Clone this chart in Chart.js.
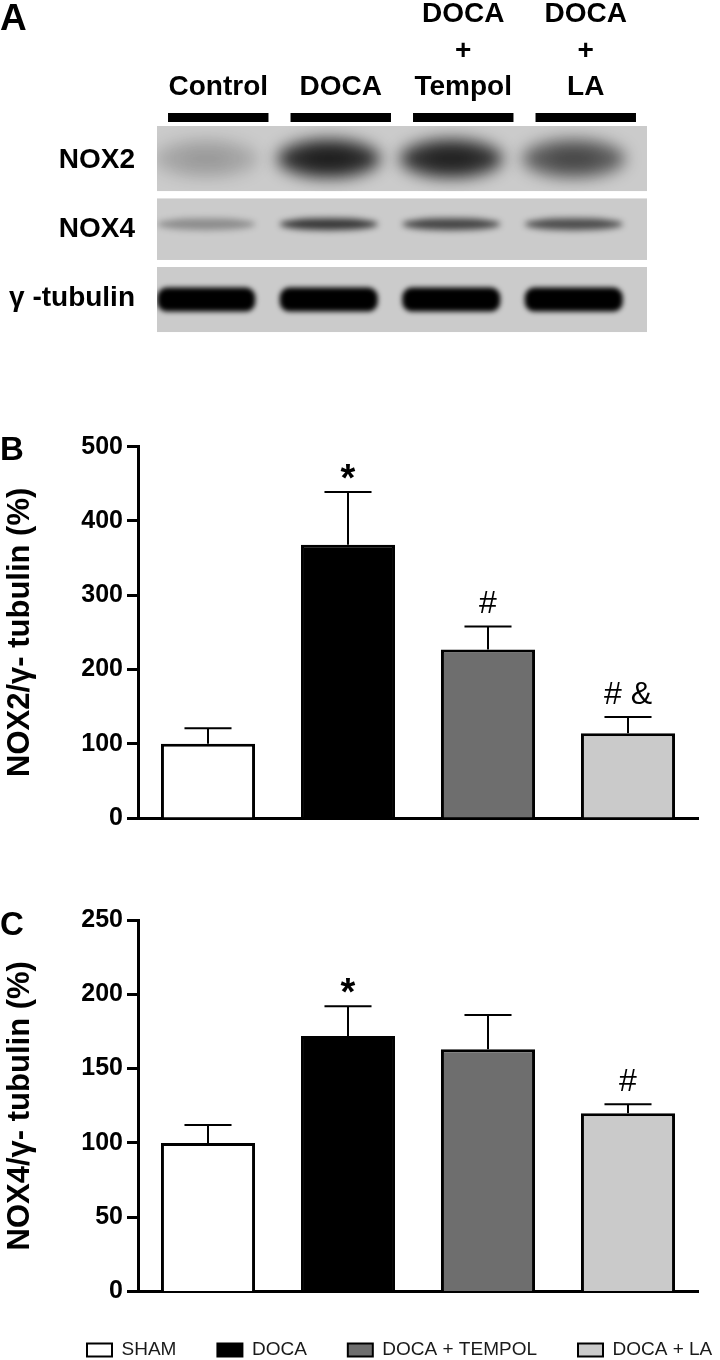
<!DOCTYPE html>
<html>
<head>
<meta charset="utf-8">
<script src="https://cdn.jsdelivr.net/npm/chart.js@4.4.1/dist/chart.umd.min.js"></script>
<style>
  html, body { margin:0; padding:0; background:#fff; overflow:hidden; }
  #wrap { position:relative; width:720px; height:1360px; overflow:hidden; background:#fff; }
  canvas { position:absolute; left:0; }
</style>
</head>
<body>
<div id="wrap">
  <canvas id="cA" width="720" height="371" style="top:0px"></canvas>
  <canvas id="cB" width="720" height="440" style="top:400px"></canvas>
  <canvas id="cC" width="720" height="490" style="top:880px"></canvas>
</div>
<script>
// ---------- data ----------
const groups = ['SHAM', 'DOCA', 'DOCA + TEMPOL', 'DOCA + LA'];
const groupColors = ['#ffffff', '#000000', '#6e6e6e', '#cacaca'];

const nox2Mean = [100, 368, 227, 114];
const nox2Err  = [21, 71, 31, 22];
const nox2Sig  = ['', '*', '#', '# &'];
const nox2Ticks = [0, 100, 200, 300, 400, 500];

const nox4Mean = [100, 172, 163, 120];
const nox4Err  = [12, 20, 23, 6];
const nox4Sig  = ['', '*', '', '#'];
const nox4Ticks = [0, 50, 100, 150, 200, 250];

const lanes = ['Control', 'DOCA', ['DOCA', '+', 'Tempol'], ['DOCA', '+', 'LA']];
const blotRows = ['NOX2', 'NOX4', 'γ -tubulin'];
const nox2Band = [0.18, 0.78, 0.76, 0.55];
const nox4Band = [0.3, 0.72, 0.66, 0.62];
const tubulinBand = [1, 1, 1, 1];

// ---------- setup ----------
Chart.defaults.font.family = '"Liberation Sans", Arial, Helvetica, sans-serif';
Chart.defaults.color = '#000';

const letterPlugin = {
  id: 'panelLetter',
  afterDraw(chart, args, o) {
    const ctx = chart.ctx;
    ctx.save();
    ctx.font = 'bold ' + o.size + 'px "Liberation Sans", Arial, sans-serif';
    ctx.fillStyle = '#000';
    ctx.textAlign = 'left';
    ctx.textBaseline = 'alphabetic';
    ctx.fillText(o.text, o.x, o.y);
    ctx.restore();
  }
};

const errorPlugin = {
  id: 'errbars',
  afterDatasetsDraw(chart) {
    const ctx = chart.ctx;
    const y = chart.scales.y;
    chart.data.datasets.forEach((ds, di) => {
      const meta = chart.getDatasetMeta(di);
      meta.data.forEach((bar, i) => {
        const top = y.getPixelForValue(ds.data[i] + ds.errors[i]);
        const half = bar.width * 0.25;
        ctx.save();
        ctx.strokeStyle = '#000';
        ctx.lineWidth = 2;
        ctx.beginPath();
        ctx.moveTo(bar.x, bar.y);
        ctx.lineTo(bar.x, top);
        ctx.moveTo(bar.x - half, top);
        ctx.lineTo(bar.x + half, top);
        ctx.stroke();
        const s = ds.marks[i];
        if (s) {
          ctx.font = (s === '*' ? 'bold 38px' : '32px') + ' "Liberation Sans", Arial, sans-serif';
          ctx.fillStyle = '#000';
          ctx.textAlign = 'center';
          ctx.textBaseline = 'alphabetic';
          const m = ctx.measureText(s);
          ctx.fillText(s, bar.x, top - 13 - m.actualBoundingBoxDescent);
        }
        ctx.restore();
      });
    });
  }
};

const blotPlugin = {
  id: 'blot',
  beforeDatasetsDraw(chart, args, o) {
    const {ctx, chartArea: ca, scales: {x, y}} = chart;
    const laneW = Math.abs(x.getPixelForValue(1) - x.getPixelForValue(0));
    const rowH = Math.abs(y.getPixelForValue(1) - y.getPixelForValue(0));
    ctx.save();
    ctx.fillStyle = '#000';
    lanes.forEach((l, i) => {
      const cx = x.getPixelForValue(i);
      ctx.fillRect(cx - laneW * o.markerFrac / 2, ca.top - o.markerGap - o.markerH, laneW * o.markerFrac, o.markerH);
    });
    const n = chart.data.datasets.length;
    chart.data.datasets.forEach((ds, r) => {
      const cy = y.getPixelForValue(r);
      const top = cy - rowH / 2 + (r > 0 ? o.gap / 2 : 0);
      const bot = cy + rowH / 2 - (r < n - 1 ? o.gap / 2 : 0);
      ctx.save();
      ctx.beginPath();
      ctx.rect(ca.left, top, ca.right - ca.left, bot - top);
      ctx.clip();
      ctx.fillStyle = o.panelColor;
      ctx.fillRect(ca.left, top, ca.right - ca.left, bot - top);
      const st = o.rows[r];
      const meta = chart.getDatasetMeta(r);
      meta.data.forEach((pt, i) => {
        const v = ds.data[i].v;
        const bx = pt.x + o.shift;
        const by = top + st.pos * (bot - top);
        ctx.filter = 'blur(' + st.blur + 'px)';
        ctx.fillStyle = 'rgba(0,0,0,' + v + ')';
        ctx.beginPath();
        if (st.shape === 'rect') {
          ctx.roundRect(bx - laneW * st.rx, by - st.ry, 2 * laneW * st.rx, 2 * st.ry, st.ry * 0.8);
        } else {
          ctx.ellipse(bx, by, laneW * st.rx, st.ry, 0, 0, Math.PI * 2);
        }
        ctx.fill();
        if (st.core) {
          ctx.fillStyle = 'rgba(0,0,0,' + (v * st.core) + ')';
          ctx.beginPath();
          ctx.ellipse(bx, by, laneW * st.rx * 0.5, st.ry * 0.45, 0, 0, Math.PI * 2);
          ctx.fill();
        }
        ctx.filter = 'none';
      });
      ctx.restore();
    });
    ctx.restore();
  }
};

// ---------- Panel A: blot ----------
new Chart(document.getElementById('cA'), {
  type: 'scatter',
  data: {
    datasets: [nox2Band, nox4Band, tubulinBand].map((band, ri) => ({
      label: blotRows[ri],
      parsing: false,
      data: band.map((v, i) => ({x: i, y: ri, v: v})),
      pointRadius: 0
    }))
  },
  plugins: [blotPlugin, letterPlugin],
  options: {
    responsive: false,
    animation: false,
    events: [],
    layout: {padding: {left: 0, right: 73, top: 0, bottom: 9}},
    plugins: {
      legend: {display: false},
      tooltip: {enabled: false},
      panelLetter: {text: 'A', x: 0, y: 30, size: 37},
      blot: {
        markerFrac: 0.82, markerH: 9, markerGap: 4, gap: 7,
        panelColor: '#cbcbcb', shift: -12,
        rows: [
          {pos: 0.5, rx: 0.42, ry: 19, blur: 8, core: 0.45},
          {pos: 0.42, rx: 0.4, ry: 6, blur: 3},
          {pos: 0.5, rx: 0.4, ry: 12, blur: 2.5, shape: 'rect'}
        ]
      }
    },
    scales: {
      x: {
        type: 'category', labels: lanes, position: 'top', offset: true,
        grid: {display: false, drawTicks: false}, border: {display: false},
        ticks: {color: '#000', font: {size: 28, weight: 'bold', lineHeight: 1.29}, padding: 21, maxRotation: 0, autoSkip: false},
        afterFit: s => { s.height = 126; }
      },
      y: {
        type: 'category', labels: blotRows, offset: true,
        grid: {display: false, drawTicks: false}, border: {display: false},
        ticks: {color: '#000', font: {size: 28, weight: 'bold'}, padding: 22, autoSkip: false},
        afterFit: s => { s.width = 157; }
      }
    }
  }
});

// ---------- helpers for bar panels ----------
function barDataset(mean, err, sig) {
  return {
    data: mean, errors: err, marks: sig,
    backgroundColor: groupColors, borderColor: '#000', borderWidth: 3,
    borderSkipped: 'start', barPercentage: 0.672, categoryPercentage: 1
  };
}
function yAxis(max, ticks, title, titlePad, width) {
  return {
    min: 0, max: max,
    afterBuildTicks: s => { s.ticks = ticks.map(v => ({value: v})); },
    grid: {display: true, drawOnChartArea: false, tickLength: 11, tickWidth: 3, tickColor: '#000'},
    border: {display: true, color: '#000', width: 3},
    ticks: {color: '#000', font: {size: 25, weight: 'bold'}, padding: 4},
    title: {display: true, text: title, color: '#000', font: {size: 31, weight: 'bold'}, padding: {top: titlePad, bottom: 0}},
    afterFit: s => { s.width = width; }
  };
}

// ---------- Panel B ----------
new Chart(document.getElementById('cB'), {
  type: 'bar',
  data: {labels: groups, datasets: [barDataset(nox2Mean, nox2Err, nox2Sig)]},
  plugins: [errorPlugin, letterPlugin],
  options: {
    responsive: false, animation: false, events: [],
    layout: {padding: {left: 0, right: 22, top: 46.7, bottom: 2}},
    plugins: {
      legend: {display: false}, tooltip: {enabled: false},
      panelLetter: {text: 'B', x: 0, y: 60, size: 33}
    },
    scales: {
      x: {
        grid: {display: false}, border: {display: true, color: '#000', width: 3},
        ticks: {display: false}, afterFit: s => { s.height = 20; }
      },
      y: yAxis(500, nox2Ticks, 'NOX2/γ- tubulin (%)', 1.5, 138)
    }
  }
});

// ---------- Panel C ----------
new Chart(document.getElementById('cC'), {
  type: 'bar',
  data: {labels: groups, datasets: [barDataset(nox4Mean, nox4Err, nox4Sig)]},
  plugins: [errorPlugin, letterPlugin],
  options: {
    responsive: false, animation: false, events: [],
    layout: {padding: {left: 30, right: -49.3, top: 40, bottom: 0.5}},
    plugins: {
      tooltip: {enabled: false},
      panelLetter: {text: 'C', x: 0, y: 55, size: 33},
      legend: {
        display: true, position: 'bottom', align: 'center', fullSize: true,
        labels: {
          boxWidth: 25, boxHeight: 13, padding: 41, color: '#1a1a1a',
          font: {size: 19, weight: 'normal'},
          generateLabels: chart => groups.map((g, i) => ({
            text: g, fillStyle: groupColors[i], strokeStyle: '#000', lineWidth: 2,
            hidden: false, index: i, fontColor: '#1a1a1a'
          }))
        }
      }
    },
    scales: {
      x: {
        grid: {display: false}, border: {display: true, color: '#000', width: 3},
        ticks: {display: false}, afterFit: s => { s.height = 8; }
      },
      y: yAxis(250, nox4Ticks, 'NOX4/γ- tubulin (%)', -28.5, 108),
      yR: {
        type: 'linear', position: 'right', display: true,
        grid: {display: false}, border: {display: false}, ticks: {display: false},
        afterFit: s => { s.width = 71.3; }
      }
    }
  }
});
</script>
</body>
</html>
